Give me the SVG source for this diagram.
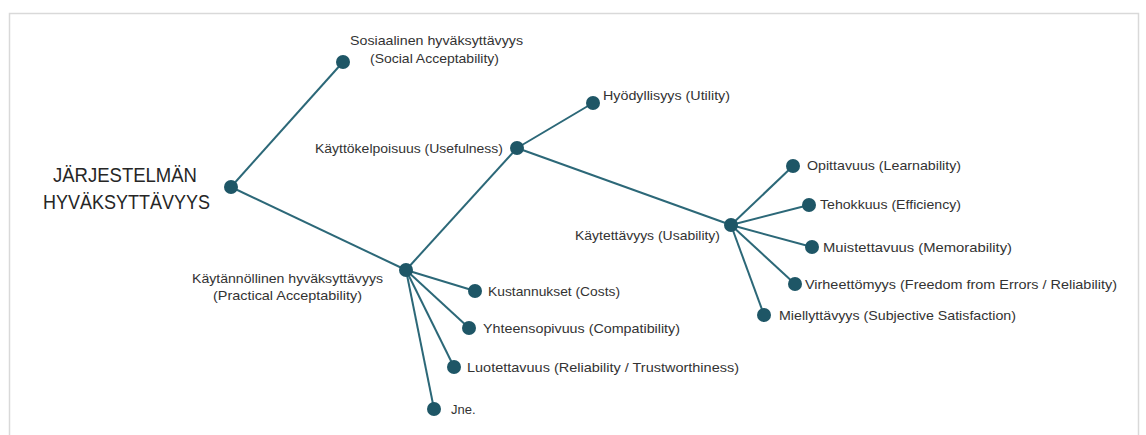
<svg xmlns="http://www.w3.org/2000/svg" width="1146" height="435" viewBox="0 0 1146 435">
<style>
.bg{fill:#ffffff}
.frame{fill:none;stroke:#d9d9d9;stroke-width:1.5}
.edge{stroke:#2c6878;stroke-width:2;fill:none}
.dot{fill:#1e5666}
.lbl{font-family:"Liberation Sans",Arial,sans-serif;font-size:13px;fill:#333333}
.big{font-family:"Liberation Sans",Arial,sans-serif;font-size:21px;fill:#262626}
</style>
<rect class="bg" x="0" y="0" width="1146" height="435"/>
<rect class="frame" x="9.5" y="13.5" width="1129" height="440"/>
<g id="connectors">
<line class="edge" x1="231" y1="187" x2="343" y2="62"/>
<line class="edge" x1="231" y1="187" x2="406" y2="270"/>
<line class="edge" x1="406" y1="270" x2="517" y2="148"/>
<line class="edge" x1="517" y1="148" x2="593" y2="103"/>
<line class="edge" x1="517" y1="148" x2="731" y2="225"/>
<line class="edge" x1="731" y1="225" x2="793" y2="166"/>
<line class="edge" x1="731" y1="225" x2="809" y2="205"/>
<line class="edge" x1="731" y1="225" x2="812" y2="247"/>
<line class="edge" x1="731" y1="225" x2="795" y2="284"/>
<line class="edge" x1="731" y1="225" x2="764" y2="315"/>
<line class="edge" x1="406" y1="270" x2="475" y2="291"/>
<line class="edge" x1="406" y1="270" x2="469" y2="328"/>
<line class="edge" x1="406" y1="270" x2="454" y2="367"/>
<line class="edge" x1="406" y1="270" x2="434" y2="409"/>
</g>
<g id="root">
<circle class="dot" cx="231" cy="187" r="7"/>
<text class="big" x="125" y="182" text-anchor="middle" textLength="144" lengthAdjust="spacingAndGlyphs">JÄRJESTELMÄN</text>
<text class="big" x="126.5" y="209" text-anchor="middle" textLength="167" lengthAdjust="spacingAndGlyphs">HYVÄKSYTTÄVYYS</text>
</g>
<g id="social">
<circle class="dot" cx="343" cy="62" r="7"/>
<text class="lbl" x="350" y="45" textLength="173" lengthAdjust="spacingAndGlyphs">Sosiaalinen hyväksyttävyys</text>
<text class="lbl" x="370" y="63" textLength="129" lengthAdjust="spacingAndGlyphs">(Social Acceptability)</text>
</g>
<g id="practical">
<circle class="dot" cx="406" cy="270" r="7"/>
<text class="lbl" x="192" y="283" textLength="191" lengthAdjust="spacingAndGlyphs">Käytännöllinen hyväksyttävyys</text>
<text class="lbl" x="213" y="300" textLength="149" lengthAdjust="spacingAndGlyphs">(Practical Acceptability)</text>
</g>
<g id="usefulness">
<circle class="dot" cx="517" cy="148" r="7"/>
<text class="lbl" x="315" y="153" textLength="188" lengthAdjust="spacingAndGlyphs">Käyttökelpoisuus (Usefulness)</text>
</g>
<g id="utility">
<circle class="dot" cx="593" cy="103" r="7"/>
<text class="lbl" x="603" y="100" textLength="127" lengthAdjust="spacingAndGlyphs">Hyödyllisyys (Utility)</text>
</g>
<g id="usability">
<circle class="dot" cx="731" cy="225" r="7"/>
<text class="lbl" x="575" y="240" textLength="145" lengthAdjust="spacingAndGlyphs">Käytettävyys (Usability)</text>
</g>
<g id="learnability">
<circle class="dot" cx="793" cy="166" r="7"/>
<text class="lbl" x="807" y="170" textLength="154" lengthAdjust="spacingAndGlyphs">Opittavuus (Learnability)</text>
</g>
<g id="efficiency">
<circle class="dot" cx="809" cy="205" r="7"/>
<text class="lbl" x="820" y="209" textLength="141" lengthAdjust="spacingAndGlyphs">Tehokkuus (Efficiency)</text>
</g>
<g id="memorability">
<circle class="dot" cx="812" cy="247" r="7"/>
<text class="lbl" x="823" y="252" textLength="189" lengthAdjust="spacingAndGlyphs">Muistettavuus (Memorability)</text>
</g>
<g id="freedom">
<circle class="dot" cx="795" cy="284" r="7"/>
<text class="lbl" x="805" y="289" textLength="312" lengthAdjust="spacingAndGlyphs">Virheettömyys (Freedom from Errors / Reliability)</text>
</g>
<g id="satisfaction">
<circle class="dot" cx="764" cy="315" r="7"/>
<text class="lbl" x="779" y="320" textLength="237" lengthAdjust="spacingAndGlyphs">Miellyttävyys (Subjective Satisfaction)</text>
</g>
<g id="costs">
<circle class="dot" cx="475" cy="291" r="7"/>
<text class="lbl" x="488" y="296" textLength="132" lengthAdjust="spacingAndGlyphs">Kustannukset (Costs)</text>
</g>
<g id="compatibility">
<circle class="dot" cx="469" cy="328" r="7"/>
<text class="lbl" x="483" y="333" textLength="197" lengthAdjust="spacingAndGlyphs">Yhteensopivuus (Compatibility)</text>
</g>
<g id="reliability">
<circle class="dot" cx="454" cy="367" r="7"/>
<text class="lbl" x="467" y="372" textLength="272" lengthAdjust="spacingAndGlyphs">Luotettavuus (Reliability / Trustworthiness)</text>
</g>
<g id="jne">
<circle class="dot" cx="434" cy="409" r="7"/>
<text class="lbl" x="451" y="414">Jne.</text>
</g>
</svg>
